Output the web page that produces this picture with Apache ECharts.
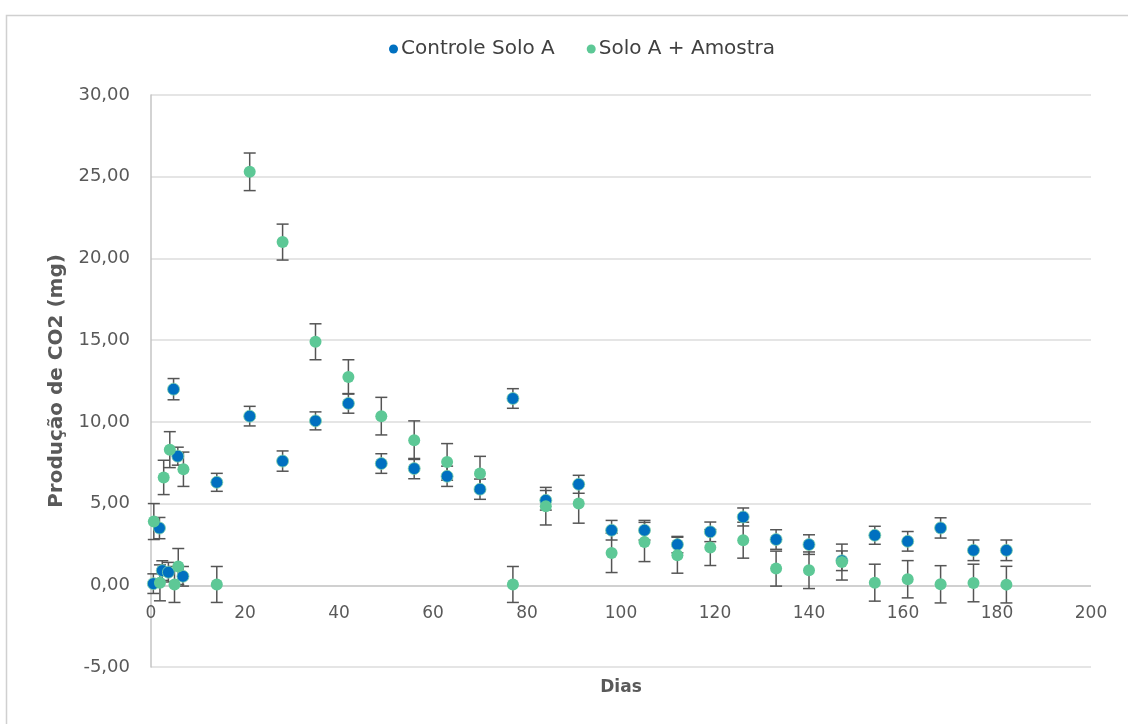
<!DOCTYPE html>
<html>
<head>
<meta charset="utf-8">
<script src="https://cdn.jsdelivr.net/npm/echarts@6/dist/echarts.min.js"></script>
<style>
  html, body { margin: 0; padding: 0; background: #fff; }
  #grafico { width: 1128px; height: 724px; }
</style>
</head>
<body>
<div id="grafico"></div>
<script>
// dados: dia, valor médio, erro (±)
var diasControle = [0.5, 1.8, 2.4, 3.7, 4.8, 5.7, 6.8, 14, 21, 28, 35, 42, 49, 56, 63, 70, 77, 84, 91, 98, 105, 112, 119, 126, 133, 140, 147, 154, 161, 168, 175, 182];
var controle = [0.10, 3.50, 0.90, 0.80, 12.00, 7.90, 0.55, 6.30, 10.35, 7.60, 10.06, 11.13, 7.45, 7.14, 6.67, 5.88, 11.43, 5.20, 6.18, 3.37, 3.37, 2.49, 3.27, 4.18, 2.80, 2.49, 1.50, 3.06, 2.69, 3.51, 2.14, 2.14];
var erroControle = [0.6, 0.65, 0.6, 0.6, 0.65, 0.55, 0.6, 0.55, 0.6, 0.62, 0.55, 0.6, 0.6, 0.62, 0.62, 0.62, 0.6, 0.6, 0.55, 0.6, 0.6, 0.5, 0.6, 0.55, 0.6, 0.6, 0.6, 0.55, 0.6, 0.62, 0.63, 0.63];

var diasAmostra = [0.6, 1.9, 2.7, 4.0, 5.0, 5.8, 6.9, 14, 21, 28, 35, 42, 49, 56, 63, 70, 77, 84, 91, 98, 105, 112, 119, 126, 133, 140, 147, 154, 161, 168, 175, 182];
var amostra = [3.90, 0.15, 6.60, 8.30, 0.05, 1.15, 7.10, 0.05, 25.30, 21.00, 14.90, 12.75, 10.35, 8.88, 7.55, 6.84, 0.05, 4.84, 5.00, 1.98, 2.65, 1.84, 2.31, 2.76, 1.02, 0.92, 1.42, 0.16, 0.37, 0.06, 0.14, 0.04];
var erroAmostra = [1.1, 1.1, 1.05, 1.1, 1.1, 1.1, 1.05, 1.1, 1.15, 1.1, 1.1, 1.05, 1.15, 1.18, 1.12, 1.05, 1.1, 1.15, 1.2, 1.2, 1.2, 1.1, 1.1, 1.1, 1.07, 1.12, 1.1, 1.13, 1.14, 1.14, 1.15, 1.12];

var corControle = '#0070c0';
var corAmostra = '#5dc896';

var myChart = echarts.init(document.getElementById('grafico'));
var option;

function montar(dias, valores, erros) {
  return dias.map(function (d, i) { return [d, valores[i], erros[i]]; });
}

// barras de erro verticais com traço horizontal nas pontas
function barraErro(params, api) {
  var x = api.value(0), y = api.value(1), e = api.value(2);
  var topo = api.coord([x, y + e]);
  var base = api.coord([x, y - e]);
  var w = 6;
  var estilo = { stroke: '#555555', lineWidth: 1.5 };
  return {
    type: 'group',
    children: [
      { type: 'line', shape: { x1: topo[0], y1: topo[1], x2: base[0], y2: base[1] }, style: estilo },
      { type: 'line', shape: { x1: topo[0] - w, y1: topo[1], x2: topo[0] + w, y2: topo[1] }, style: estilo },
      { type: 'line', shape: { x1: base[0] - w, y1: base[1], x2: base[0] + w, y2: base[1] }, style: estilo }
    ]
  };
}

var dadosControle = montar(diasControle, controle, erroControle);
var dadosAmostra = montar(diasAmostra, amostra, erroAmostra);

// linhas de grade: a do zero (eixo X) um pouco mais escura
var coresGrade = ['#dcdcdc', '#c0c0c0', '#dcdcdc', '#dcdcdc', '#dcdcdc', '#dcdcdc', '#dcdcdc', '#dcdcdc'];

option = {
  animation: false,
  textStyle: { fontFamily: 'DejaVu Sans' },
  graphic: [{
    type: 'rect',
    left: 4, top: 13,
    shape: { width: 1200, height: 800 },
    style: { fill: 'none', stroke: '#d0d0d0', lineWidth: 1.5 },
    silent: true
  }],
  legend: {
    top: 34,
    left: 384,
    data: [
      { name: 'Controle Solo A', itemStyle: { borderWidth: 0 } },
      { name: 'Solo A + Amostra' }
    ],
    icon: 'circle',
    itemWidth: 9,
    itemHeight: 9,
    itemGap: 32,
    textStyle: { fontSize: 20, color: '#404040', fontFamily: 'DejaVu Sans', padding: [0, 0, 0, -2] }
  },
  grid: { left: 151, right: 37, top: 95, bottom: 57, containLabel: false, outerBoundsMode: 'none' },
  xAxis: {
    type: 'value',
    min: 0, max: 200, interval: 20,
    name: 'Dias',
    nameLocation: 'middle',
    nameGap: 12,
    nameTextStyle: { fontSize: 17, fontWeight: 'bold', color: '#595959' },
    axisLine: { show: false, onZero: false },
    axisTick: { show: false },
    axisLabel: { fontSize: 17, color: '#595959', margin: -62 },
    splitLine: { show: false }
  },
  yAxis: {
    type: 'value',
    min: -5, max: 30, interval: 5,
    name: 'Produção de CO2 (mg)',
    nameLocation: 'middle',
    nameGap: 84,
    nameTextStyle: { fontSize: 20, fontWeight: 'bold', color: '#595959' },
    axisLine: { show: true, onZero: false, lineStyle: { color: '#c4c4c4', width: 1.5 } },
    axisTick: { show: false },
    axisLabel: {
      fontSize: 18, color: '#595959', margin: 21,
      formatter: function (v) { return v.toFixed(2).replace('.', ','); }
    },
    splitLine: { lineStyle: { color: coresGrade, width: 1.5 } }
  },
  series: [
    {
      name: 'erro controle',
      type: 'custom',
      renderItem: barraErro,
      encode: { x: 0, y: 1 },
      data: dadosControle,
      z: 1,
      silent: true
    },
    {
      name: 'erro amostra',
      type: 'custom',
      renderItem: barraErro,
      encode: { x: 0, y: 1 },
      data: dadosAmostra,
      z: 1,
      silent: true
    },
    {
      name: 'Controle Solo A',
      type: 'scatter',
      data: dadosControle,
      symbolSize: 12,
      itemStyle: { color: corControle, borderColor: '#7fd3a8', borderWidth: 0.8, opacity: 1 },
      z: 2
    },
    {
      name: 'Solo A + Amostra',
      type: 'scatter',
      data: dadosAmostra,
      symbolSize: 12,
      itemStyle: { color: corAmostra, opacity: 1 },
      z: 3
    }
  ]
};

option && myChart.setOption(option);
</script>
</body>
</html>
